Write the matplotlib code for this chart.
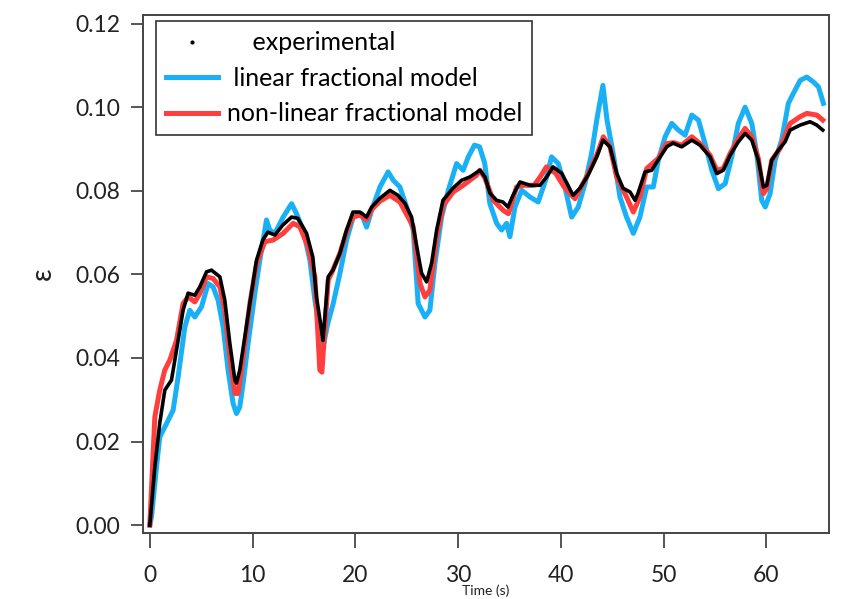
import matplotlib
matplotlib.use('Agg')
import matplotlib.pyplot as plt
from matplotlib.lines import Line2D

# experimental (black)
t_exp = [0.0, 0.49, 0.97, 1.46, 2.11, 2.6, 3.24, 3.73, 4.38, 4.87, 5.52, 6.01, 6.82, 7.3,
         7.79, 8.28, 8.44, 8.76, 9.25, 9.74, 10.39, 11.0, 11.49, 12.17, 12.95, 13.8, 14.41,
         15.26, 15.87, 16.23, 16.72, 16.85, 17.36, 17.82, 18.5, 19.15, 19.77, 20.45, 21.1,
         21.59, 22.4, 23.37, 24.15, 24.83, 25.48, 26.1, 26.45, 26.94, 27.43, 27.92, 28.53,
         29.5, 30.35, 31.16, 32.13, 32.62, 33.11, 33.76, 34.37, 34.86, 35.35, 36.03, 37.0,
         37.97, 38.63, 39.24, 40.09, 40.7, 41.19, 41.87, 42.65, 43.5, 44.11, 44.79, 45.44,
         46.06, 46.74, 47.23, 47.52, 48.2, 48.85, 49.47, 50.31, 50.92, 51.77, 52.75, 53.55,
         54.53, 55.18, 55.82, 56.48, 57.28, 57.94, 58.59, 59.23, 59.72, 60.05, 60.53, 61.18,
         61.83, 62.32, 63.29, 64.26, 64.92, 65.5]
eps_exp = [0.0, 0.0139, 0.0244, 0.0323, 0.0347, 0.0419, 0.0514, 0.0555, 0.055, 0.057, 0.0606,
           0.061, 0.0594, 0.0538, 0.0435, 0.0347, 0.034, 0.0371, 0.045, 0.0531, 0.0634, 0.0682,
           0.0701, 0.0694, 0.0718, 0.0737, 0.0734, 0.0698, 0.0641, 0.0545, 0.0466, 0.0442,
           0.0594, 0.061, 0.065, 0.0706, 0.0749, 0.0749, 0.0737, 0.0761, 0.0782, 0.0801, 0.0789,
           0.077, 0.0737, 0.065, 0.0603, 0.0582, 0.0627, 0.0706, 0.0777, 0.0806, 0.0825, 0.0833,
           0.0849, 0.0833, 0.0794, 0.0777, 0.0773, 0.0761, 0.0789, 0.0821, 0.0813, 0.0813,
           0.0833, 0.0857, 0.0842, 0.0813, 0.0789, 0.0806, 0.0837, 0.0881, 0.0921, 0.0905,
           0.0842, 0.0806, 0.0797, 0.0777, 0.0794, 0.0845, 0.0849, 0.0873, 0.0905, 0.0914,
           0.0905, 0.0921, 0.0909, 0.0881, 0.0841, 0.0849, 0.0885, 0.0917, 0.0937, 0.0921,
           0.0873, 0.0809, 0.0813, 0.0873, 0.0897, 0.0917, 0.0945, 0.0957, 0.0965, 0.0957, 0.0945]

# linear fractional model (blue)
t_lin = [0.0, 0.17, 0.65, 0.97, 1.63, 2.27, 2.76, 3.41, 3.89, 4.38, 5.03, 5.68, 6.16, 6.65,
         7.14, 7.62, 8.11, 8.44, 8.76, 9.08, 9.57, 10.22, 10.71, 11.36, 11.68, 12.17, 12.98,
         13.8, 14.28, 14.93, 15.58, 16.07, 16.5, 16.9, 17.3, 17.85, 18.5, 19.15, 19.8, 20.6,
         21.1, 21.59, 22.4, 23.2, 23.7, 24.34, 25.0, 25.64, 26.12, 26.78, 27.26, 27.75, 28.4,
         29.05, 29.86, 30.5, 31.0, 31.6, 32.1, 32.6, 33.1, 33.76, 34.24, 34.73, 35.05, 35.54,
         36.2, 37.0, 37.8, 38.63, 39.1, 39.76, 40.4, 41.06, 41.7, 42.36, 43.0, 43.5, 44.1,
         44.5, 45.1, 45.76, 46.4, 47.06, 47.7, 48.36, 49.0, 49.5, 50.15, 50.8, 51.45, 52.1,
         52.75, 53.4, 54.04, 54.7, 55.34, 56.0, 56.64, 57.28, 57.94, 58.59, 59.07, 59.56,
         59.9, 60.37, 60.86, 61.5, 62.15, 62.64, 63.3, 63.94, 64.6, 65.09, 65.56]
eps_lin = [0.0, 0.002, 0.0139, 0.0211, 0.0243, 0.0275, 0.0355, 0.0474, 0.0514, 0.0498, 0.0522,
           0.0578, 0.057, 0.0538, 0.0474, 0.0371, 0.0291, 0.0267, 0.0283, 0.0339, 0.0435,
           0.0554, 0.0634, 0.073, 0.0706, 0.0698, 0.0737, 0.0769, 0.0745, 0.0706, 0.0634,
           0.0538, 0.047, 0.043, 0.048, 0.053, 0.0602, 0.0682, 0.0737, 0.0745, 0.0713, 0.0753,
           0.0809, 0.0845, 0.0825, 0.0809, 0.0761, 0.0706, 0.053, 0.0498, 0.0514, 0.0626,
           0.0737, 0.0801, 0.0865, 0.0849, 0.0881, 0.0909, 0.0905, 0.0865, 0.0769, 0.0722,
           0.0706, 0.0722, 0.069, 0.0761, 0.0801, 0.0785, 0.0773, 0.0833, 0.0881, 0.0865,
           0.0809, 0.0737, 0.0761, 0.0817, 0.0889, 0.0969, 0.1052, 0.0969, 0.0889, 0.0785,
           0.0737, 0.0698, 0.0737, 0.0809, 0.0809, 0.0873, 0.0929, 0.0961, 0.0945, 0.0933,
           0.0981, 0.0969, 0.0913, 0.0849, 0.0805, 0.0817, 0.0881, 0.0961, 0.1, 0.0961, 0.0889,
           0.0777, 0.0761, 0.0793, 0.0873, 0.0921, 0.1009, 0.1033, 0.1064, 0.1072, 0.106,
           0.1048, 0.1009]

# non-linear fractional model (red)
t_nl = [0.0, 0.49, 0.97, 1.46, 1.95, 2.6, 3.24, 3.73, 4.38, 4.87, 5.52, 6.16, 6.82, 7.3, 7.79,
        8.28, 8.6, 9.08, 9.74, 10.39, 11.2, 12.0, 12.98, 13.95, 14.6, 15.4, 16.07, 16.55,
        16.75, 17.36, 17.82, 18.5, 19.15, 19.77, 20.45, 21.1, 21.59, 22.4, 23.37, 24.34,
        25.64, 26.3, 26.78, 27.26, 27.92, 28.56, 29.53, 30.5, 31.8, 32.13, 32.62, 33.43,
        34.4, 34.9, 35.7, 36.4, 37.4, 38.0, 38.6, 39.5, 40.3, 40.9, 41.38, 42.5, 43.5, 44.14,
        44.79, 45.44, 46.4, 47.06, 47.7, 48.36, 49.47, 50.31, 51.0, 51.77, 52.75, 53.55,
        54.53, 55.18, 55.82, 56.48, 57.28, 57.94, 58.59, 59.23, 59.72, 60.05, 60.53, 61.34,
        62.32, 63.29, 63.94, 64.92, 65.5]
eps_nl = [0.0, 0.0259, 0.0323, 0.0371, 0.0395, 0.0442, 0.053, 0.0546, 0.0534, 0.0554, 0.0594,
          0.059, 0.057, 0.0514, 0.0403, 0.0315, 0.0315, 0.0403, 0.053, 0.0626, 0.0678, 0.0682,
          0.0698, 0.0722, 0.0714, 0.0666, 0.0594, 0.0371, 0.0366, 0.0586, 0.061, 0.065, 0.0702,
          0.0737, 0.0742, 0.073, 0.0755, 0.0775, 0.0789, 0.0773, 0.0714, 0.0578, 0.0546, 0.0562,
          0.069, 0.0765, 0.0797, 0.0813, 0.0837, 0.0849, 0.083, 0.0777, 0.0753, 0.0745, 0.0809,
          0.0813, 0.0813, 0.0833, 0.0857, 0.0842, 0.081, 0.0793, 0.0781, 0.0833, 0.0885, 0.0929,
          0.0905, 0.0833, 0.0785, 0.0749, 0.0785, 0.0853, 0.0877, 0.0913, 0.0915, 0.0909,
          0.0929, 0.0913, 0.0885, 0.0849, 0.0853, 0.0889, 0.0925, 0.0949, 0.0929, 0.0877,
          0.0793, 0.0805, 0.0873, 0.0901, 0.0961, 0.0977, 0.0985, 0.0981, 0.0969]

yticks = [0.00, 0.02, 0.04, 0.06, 0.08, 0.10, 0.12]
xticks = [0, 10, 20, 30, 40, 50, 60]

plt.rcParams['font.family'] = ['Lato', 'DejaVu Sans']

fig = plt.figure(figsize=(8.45, 5.99), dpi=100)
ax = fig.add_axes([0.169, 0.1107, 0.812, 0.864])

ax.plot(t_lin, eps_lin, color='#1ab0f5', lw=3.6, solid_joinstyle='round')
ax.plot(t_nl, eps_nl, color='#ff3e3e', lw=3.6, solid_joinstyle='round')
ax.plot(t_exp, eps_exp, color='black', lw=2.6, solid_joinstyle='round')

ax.set_xlim(-0.68, 66.1)
ax.set_ylim(-0.0018, 0.122)
ax.set_xticks(xticks)
ax.set_yticks(yticks)
ax.set_yticklabels(['%.2f' % v for v in yticks])

for s in ax.spines.values():
    s.set_color('#444444')
    s.set_linewidth(1.4)
ax.tick_params(axis='y', direction='out', length=9, width=1.4, color='#555555',
               labelsize=16.5, labelcolor='#222222', pad=7)
ax.tick_params(axis='x', direction='out', length=11, width=1.4, color='#555555',
               labelsize=16.5, labelcolor='#222222', pad=12)

ax.set_ylabel('ε', fontsize=20, labelpad=14, color='#222222')
ax.set_xlabel('Time (s)', fontsize=10, labelpad=-1, color='#222222')

handles = [
    Line2D([], [], marker='.', ls='none', color='black', markersize=4),
    Line2D([], [], color='#1ab0f5', lw=3.6),
    Line2D([], [], color='#ff3e3e', lw=3.6),
]
labels = ['    experimental', ' linear fractional model', 'non-linear fractional model']
leg = ax.legend(handles, labels, loc='upper left', bbox_to_anchor=(0.019, 0.988),
                borderaxespad=0, fontsize=18, handlelength=2.1, handletextpad=0.35,
                borderpad=0.4, labelspacing=0.5, fancybox=False, framealpha=1)
leg.get_frame().set_edgecolor('#333333')
leg.get_frame().set_linewidth(1.2)

fig.savefig('out.png', dpi=100)
